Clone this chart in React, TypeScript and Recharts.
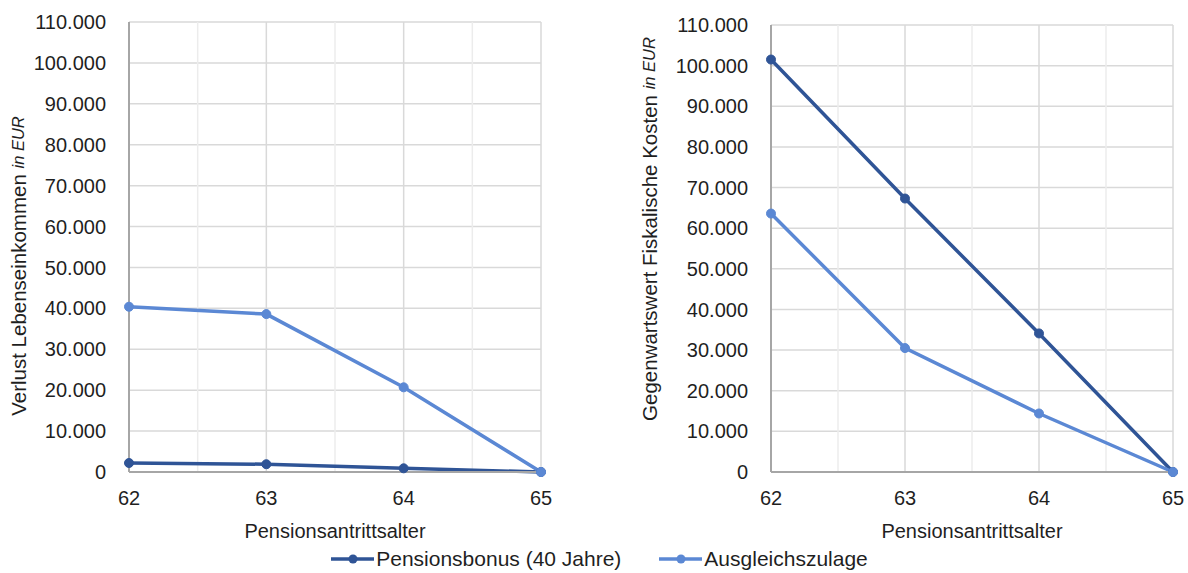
import React from 'react';
import { LineChart, Line, XAxis, YAxis, CartesianGrid, ReferenceLine, Label } from 'recharts';

// Pensionsantrittsalter
const ages = [62, 63, 64, 65];
const minorAges = [62.5, 63.5, 64.5];
const yTicks = [0, 10000, 20000, 30000, 40000, 50000, 60000, 70000, 80000, 90000, 100000, 110000];

// Verlust Lebenseinkommen in EUR
const bonusLoss = [2200, 1900, 900, 0];
const zulageLoss = [40400, 38600, 20700, 0];

// Gegenwartswert Fiskalische Kosten in EUR
const bonusCost = [101500, 67300, 34100, 0];
const zulageCost = [63600, 30500, 14400, 0];

const DARK = '#2F5496';
const LIGHT = '#5B88D4';
const FONT = '"Liberation Sans", Arial, sans-serif';
const TEXT = '#1f1f1f';

const fmt = (v: number) => String(v).replace(/\B(?=(\d{3})+(?!\d))/g, '.');

interface PanelProps {
  left: number;
  width: number;
  yWidth: number;
  top: number;
  right: number;
  labelX: number;
  labelY: number;
  title: string;
  bonus: number[];
  zulage: number[];
}

const Panel = ({ left, width, yWidth, top, right, labelX, labelY, title, bonus, zulage }: PanelProps) => {
  const data = ages.map((a, i) => ({ age: a, bonus: bonus[i], zulage: zulage[i] }));

  // rotated axis title with the small italic unit
  const yLabel = () => (
    <text
      x={labelX}
      y={labelY}
      transform={`rotate(-90, ${labelX}, ${labelY})`}
      textAnchor="middle"
      dominantBaseline="central"
      fill={TEXT}
      fontSize={20.5}
      fontFamily={FONT}
    >
      {title}{' '}
      <tspan fontStyle="italic" fontSize={16.5}>in EUR</tspan>
    </text>
  );

  return (
    <div style={{ position: 'absolute', left, top: 0 }}>
      <LineChart width={width} height={560} data={data} margin={{ top, right, bottom: 20, left: 0 }}>
        <CartesianGrid stroke="#d9d9d9" strokeWidth={1.5} />
        {minorAges.map(m => (
          <ReferenceLine key={m} x={m} stroke="#ececec" strokeWidth={1.5} />
        ))}
        <XAxis
          dataKey="age"
          type="number"
          domain={[62, 65]}
          ticks={ages}
          tickLine={false}
          axisLine={{ stroke: '#a6a6a6', strokeWidth: 2 }}
          tick={{ fill: TEXT, fontSize: 20, fontFamily: FONT }}
          tickMargin={13}
          height={68}
        >
          <Label
            value="Pensionsantrittsalter"
            position="insideBottom"
            offset={2}
            style={{ fill: TEXT, fontSize: 20, fontFamily: FONT }}
          />
        </XAxis>
        <YAxis
          type="number"
          domain={[0, 110000]}
          ticks={yTicks}
          tickFormatter={fmt}
          tickLine={false}
          axisLine={{ stroke: '#a6a6a6', strokeWidth: 2 }}
          tick={{ fill: TEXT, fontSize: 20, fontFamily: FONT }}
          tickMargin={17}
          width={yWidth}
          interval={0}
        >
          <Label content={yLabel} />
        </YAxis>
        <Line
          type="linear"
          dataKey="bonus"
          stroke={DARK}
          strokeWidth={3.5}
          dot={{ r: 4.5, fill: DARK, stroke: DARK, strokeWidth: 1 }}
          isAnimationActive={false}
        />
        <Line
          type="linear"
          dataKey="zulage"
          stroke={LIGHT}
          strokeWidth={3.5}
          dot={{ r: 4.5, fill: LIGHT, stroke: LIGHT, strokeWidth: 1 }}
          isAnimationActive={false}
        />
      </LineChart>
    </div>
  );
};

const LegendItem = ({ color, text }: { color: string; text: string }) => (
  <div style={{ display: 'flex', alignItems: 'center' }}>
    <svg width={43} height={12}>
      <line x1={0} y1={6} x2={43} y2={6} stroke={color} strokeWidth={3.5} />
      <circle cx={22} cy={6} r={4.5} fill={color} />
    </svg>
    <span style={{ marginLeft: 2 }}>{text}</span>
  </div>
);

export default function App() {
  return (
    <div
      style={{
        position: 'absolute',
        left: 0,
        top: 0,
        width: 1188,
        height: 573,
        background: '#fff',
        fontFamily: FONT,
        overflow: 'hidden',
      }}
    >
      <Panel
        left={0}
        width={560}
        yWidth={129}
        top={22}
        right={19}
        labelX={18}
        labelY={266}
        title="Verlust Lebenseinkommen"
        bonus={bonusLoss}
        zulage={zulageLoss}
      />
      <Panel
        left={600}
        width={588}
        yWidth={171}
        top={25}
        right={15}
        labelX={49}
        labelY={229}
        title="Gegenwartswert Fiskalische Kosten"
        bonus={bonusCost}
        zulage={zulageCost}
      />
      <div
        style={{
          position: 'absolute',
          left: 0,
          width: 1188,
          top: 547,
          paddingLeft: 11,
          boxSizing: 'border-box',
          display: 'flex',
          justifyContent: 'center',
          gap: 38,
          fontSize: 21,
          lineHeight: '24px',
          color: TEXT,
        }}
      >
        <LegendItem color={DARK} text="Pensionsbonus (40 Jahre)" />
        <LegendItem color={LIGHT} text="Ausgleichszulage" />
      </div>
    </div>
  );
}
